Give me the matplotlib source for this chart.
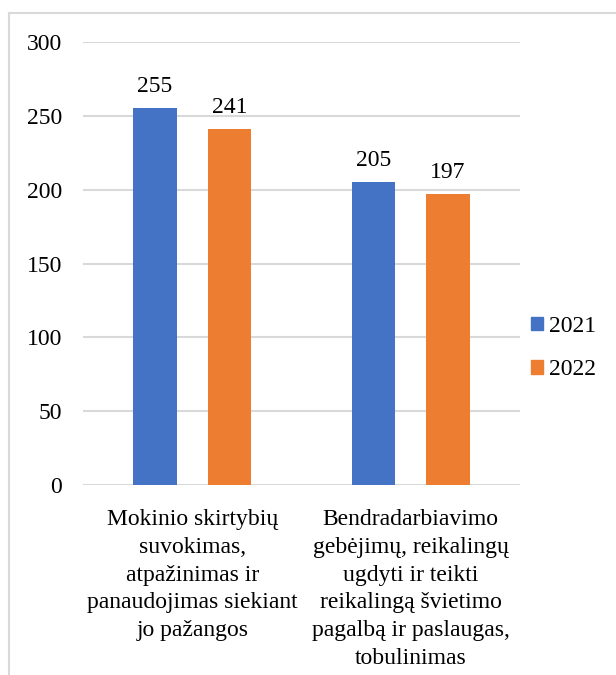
import matplotlib
matplotlib.use("Agg")
import matplotlib.pyplot as plt
import numpy as np
from matplotlib.patches import Patch

plt.rcParams['font.family'] = ['Liberation Serif', 'DejaVu Serif']

# Duomenys
categorias = ["Mokinio skirtybių\nsuvokimas,\natpažinimas ir\npanaudojimas siekiant\njo pažangos",
              "Bendradarbiavimo\ngebėjimų, reikalingų\nugdyti ir teikti\nreikalingą švietimo\npagalbą ir paslaugas,\ntobulinimas"]
metai = ["2021", "2022"]
reiksmes_2021 = [255, 205]
reiksmes_2022 = [241, 197]
spalvos = ["#4472C4", "#ED7D31"]

fs = 17
fig = plt.figure(figsize=(6.16, 6.75), dpi=100)

# Remelis aplink diagrama
fig.add_artist(plt.Line2D([9/616, 9/616], [0, 1 - 13/675], color="#d9d9d9", lw=1.5))
fig.add_artist(plt.Line2D([9/616, 1], [1 - 13/675, 1 - 13/675], color="#d9d9d9", lw=1.5))

ax = fig.add_axes([83/616, 190/675, 437/616, 443/675])
x = np.arange(len(categorias))
w = 0.2
off = 0.17
b1 = ax.bar(x - off, reiksmes_2021, w, color=spalvos[0], zorder=3)
b2 = ax.bar(x + off, reiksmes_2022, w, color=spalvos[1], zorder=3)
for bars in (b1, b2):
    ax.bar_label(bars, padding=8, fontsize=fs)

ax.set_xlim(-0.5, 1.5)
ax.set_ylim(0, 300)
ax.set_yticks(range(0, 301, 50))
ax.set_xticks(x)
ax.set_xticklabels(categorias, fontsize=fs, linespacing=1.42)
ax.tick_params(axis="y", length=0, pad=15, labelsize=fs)
ax.tick_params(axis="x", length=0, pad=17.5)
ax.grid(axis="y", color="#d9d9d9", lw=1.5, zorder=0)
for s in ax.spines.values():
    s.set_visible(False)

handles = [Patch(color=c) for c in spalvos]
fig.legend(handles, metai, loc="center left", bbox_to_anchor=(531/616, 1 - 348/675),
           frameon=False, fontsize=fs, handlelength=0.5, handleheight=0.5,
           handletextpad=0.25, labelspacing=0.95, borderpad=0, borderaxespad=0)

fig.savefig("out.png", dpi=100)
